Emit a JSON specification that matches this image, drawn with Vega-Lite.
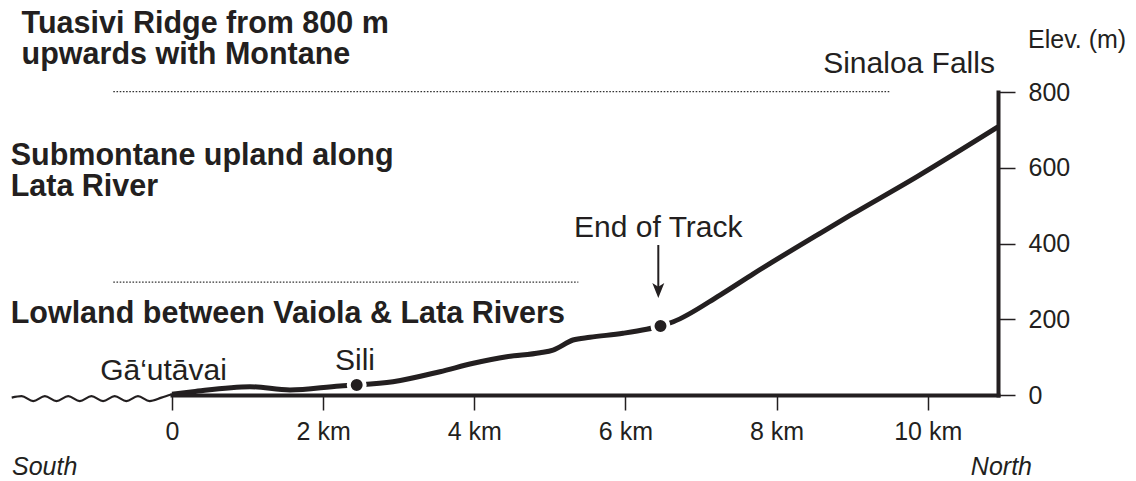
{
  "$schema": "https://vega.github.io/schema/vega-lite/v6.json",
  "width": 826,
  "height": 303,
  "autosize": {"type": "none"},
  "padding": {"left": 172, "top": 92, "right": 138, "bottom": 86},
  "background": "white",
  "config": {
    "view": {"stroke": null},
    "text": {"font": "Liberation Sans", "color": "#231f20"}
  },
  "datasets": {
    "profile": [
      {"km": 0, "m": 2},
      {"km": 0.278, "m": 8.7},
      {"km": 1.032, "m": 21.9},
      {"km": 1.561, "m": 13.2},
      {"km": 2.223, "m": 23.8},
      {"km": 2.444, "m": 26.4},
      {"km": 2.924, "m": 35.1},
      {"km": 3.546, "m": 61.5},
      {"km": 3.987, "m": 83.7},
      {"km": 4.429, "m": 101},
      {"km": 4.87, "m": 111.6},
      {"km": 5.042, "m": 118.8},
      {"km": 5.306, "m": 145.2},
      {"km": 5.531, "m": 152.3},
      {"km": 5.968, "m": 162.9},
      {"km": 6.281, "m": 173.5},
      {"km": 6.464, "m": 182.2},
      {"km": 6.634, "m": 193.5},
      {"km": 7.252, "m": 264},
      {"km": 7.692, "m": 320},
      {"km": 8.575, "m": 427},
      {"km": 8.972, "m": 474},
      {"km": 9.854, "m": 576},
      {"km": 10.93, "m": 708}
    ],
    "wave": [
      {"km": -2.121, "m": -7},
      {"km": -1.99, "m": -3},
      {"km": -1.836, "m": -16},
      {"km": -1.682, "m": -3},
      {"km": -1.528, "m": -16},
      {"km": -1.374, "m": -3},
      {"km": -1.22, "m": -16},
      {"km": -1.066, "m": -3},
      {"km": -0.912, "m": -16},
      {"km": -0.758, "m": -3},
      {"km": -0.604, "m": -16},
      {"km": -0.45, "m": -3},
      {"km": -0.296, "m": -16},
      {"km": -0.14, "m": -7},
      {"km": 0, "m": 2}
    ],
    "dots": [
      {"km": 2.444, "m": 26.4},
      {"km": 6.464, "m": 182.2}
    ],
    "dotted": [
      {"km": -0.777, "km2": 9.501, "m": 801},
      {"km": -0.777, "km2": 5.377, "m": 298}
    ],
    "shaft": [{"km": 6.435, "m": 396, "m2": 285}],
    "head": [{"km": 6.435, "m": 276}],
    "zones": [
      {"km": -1.99, "m": 954.5, "label": "Tuasivi Ridge from 800 m\nupwards with Montane"},
      {"km": -2.135, "m": 606, "label": "Submontane upland along\nLata River"},
      {"km": -2.135, "m": 189, "label": "Lowland between Vaiola & Lata Rivers"}
    ],
    "places": [
      {"km": -0.112, "m": 39.6, "label": "Gā‘utāvai"},
      {"km": 2.422, "m": 66, "label": "Sili"},
      {"km": 6.435, "m": 418, "label": "End of Track"},
      {"km": 9.753, "m": 850, "label": "Sinaloa Falls"}
    ],
    "elev": [{"km": 11.327, "m": 916, "label": "Elev. (m)"}],
    "south": [{"km": -2.117, "m": -211, "label": "South"}],
    "north": [{"km": 11.38, "m": -211, "label": "North"}]
  },
  "encoding": {
    "x": {
      "field": "km",
      "type": "quantitative",
      "scale": {"domain": [0, 10.93], "nice": false, "zero": false},
      "axis": {
        "orient": "bottom",
        "values": [0, 2, 4, 6, 8, 10],
        "labelExpr": "datum.value == 0 ? '0' : datum.value + ' km'",
        "title": null,
        "grid": false,
        "zindex": 1,
        "domainColor": "#231f20",
        "domainWidth": 4,
        "domainCap": "square",
        "tickColor": "#231f20",
        "tickWidth": 1.5,
        "tickSize": 15,
        "labelFont": "Liberation Sans",
        "labelFontSize": 25,
        "labelColor": "#231f20",
        "labelBaseline": "alphabetic",
        "labelAlign": "center",
        "labelPadding": 29,
        "labelFlush": false,
        "labelOverlap": false
      }
    },
    "y": {
      "field": "m",
      "type": "quantitative",
      "scale": {"domain": [0, 800], "nice": false, "zero": false},
      "axis": {
        "orient": "right",
        "values": [0, 200, 400, 600, 800],
        "title": null,
        "grid": false,
        "zindex": 1,
        "domainColor": "#231f20",
        "domainWidth": 4,
        "domainCap": "square",
        "tickColor": "#231f20",
        "tickWidth": 1.5,
        "tickSize": 17,
        "labelFont": "Liberation Sans",
        "labelFontSize": 25,
        "labelColor": "#231f20",
        "labelBaseline": "middle",
        "labelAlign": "left",
        "labelPadding": 13,
        "labelFlush": false,
        "labelOverlap": false
      }
    }
  },
  "layer": [
    {
      "data": {"name": "dotted"},
      "mark": {"type": "rule", "color": "#333", "strokeWidth": 1.2, "strokeDash": [1.6, 1.6]},
      "encoding": {"x2": {"field": "km2"}}
    },
    {
      "data": {"name": "wave"},
      "mark": {"type": "line", "color": "#231f20", "strokeWidth": 2.2, "interpolate": "monotone"},
      "encoding": {}
    },
    {
      "data": {"name": "profile"},
      "mark": {"type": "line", "color": "#231f20", "strokeWidth": 5, "interpolate": "monotone"},
      "encoding": {}
    },
    {
      "data": {"name": "dots"},
      "mark": {"type": "circle", "color": "#231f20", "opacity": 1, "size": 254, "stroke": "white", "strokeWidth": 4},
      "encoding": {}
    },
    {
      "data": {"name": "shaft"},
      "mark": {"type": "rule", "color": "#231f20", "strokeWidth": 2},
      "encoding": {"y2": {"field": "m2"}}
    },
    {
      "data": {"name": "head"},
      "mark": {"type": "point", "filled": true, "opacity": 1, "color": "#231f20", "size": 225, "shape": "M-0.8,-1L0,1L0.8,-1L0,-0.5Z"},
      "encoding": {}
    },
    {
      "data": {"name": "zones"},
      "mark": {"type": "text", "align": "left", "baseline": "alphabetic", "fontSize": 30.5, "fontWeight": "bold", "lineHeight": 31, "lineBreak": "\n"},
      "encoding": {"text": {"field": "label", "type": "nominal"}}
    },
    {
      "data": {"name": "places"},
      "mark": {"type": "text", "align": "center", "baseline": "alphabetic", "fontSize": 30},
      "encoding": {"text": {"field": "label", "type": "nominal"}}
    },
    {
      "data": {"name": "elev"},
      "mark": {"type": "text", "align": "left", "baseline": "alphabetic", "fontSize": 25},
      "encoding": {"text": {"field": "label", "type": "nominal"}}
    },
    {
      "data": {"name": "south"},
      "mark": {"type": "text", "align": "left", "baseline": "alphabetic", "fontSize": 25, "fontStyle": "italic"},
      "encoding": {"text": {"field": "label", "type": "nominal"}}
    },
    {
      "data": {"name": "north"},
      "mark": {"type": "text", "align": "right", "baseline": "alphabetic", "fontSize": 25, "fontStyle": "italic"},
      "encoding": {"text": {"field": "label", "type": "nominal"}}
    }
  ]
}
